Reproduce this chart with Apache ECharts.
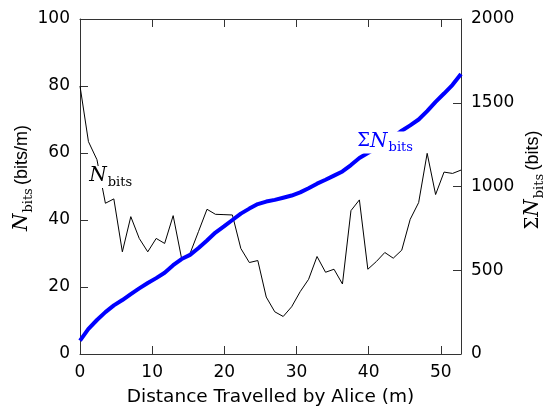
<!DOCTYPE html>
<html>
<head>
<meta charset="utf-8">
<script src="https://cdn.jsdelivr.net/npm/echarts@6/dist/echarts.min.js"></script>
<style>
  html, body { margin: 0; padding: 0; background: #fff; }
  #chart { width: 544px; height: 410px; }
</style>
</head>
<body>
<div id="chart"></div>
<script>
// Distance travelled by Alice (m) at each sample
const distance = [
  0, 1.17, 2.35, 3.52, 4.69, 5.87, 7.04, 8.21, 9.39, 10.56,
  11.73, 12.91, 14.08, 15.25, 16.43, 17.6, 18.77, 19.95, 21.12, 22.29,
  23.47, 24.64, 25.81, 26.99, 28.16, 29.33, 30.51, 31.68, 32.85, 34.03,
  35.2, 36.37, 37.55, 38.72, 39.89, 41.07, 42.24, 43.41, 44.59, 45.76,
  46.93, 48.11, 49.28, 50.45, 51.63, 52.8
];

// Key bits per metre
const nBits = [
  80, 63.4, 58, 45, 46.3, 30.5, 41, 34.5, 30.5, 34.5,
  33, 41.3, 28.5, 30, 36.6, 43.2, 41.7, 41.6, 41.5, 31.5,
  27.3, 27.9, 17, 12.6, 11.2, 14.1, 18.6, 22.3, 29.1, 24.4,
  25.3, 20.9, 42.8, 46, 25.3, 27.6, 30.3, 28.6, 31, 40.2,
  45.2, 59.9, 47.6, 54.3, 53.9, 54.9
];

// Accumulated key bits
const cumBits = [
  80, 150, 203, 250, 290, 322, 358, 392, 424, 453,
  485, 530, 567, 592, 633, 678, 725, 762, 800, 838,
  868, 895, 910, 920, 933, 946, 965, 990, 1017, 1040,
  1065, 1090, 1128, 1170, 1200, 1230, 1262, 1295, 1333, 1365,
  1400, 1450, 1505, 1555, 1607, 1672
];

const xTicks = [0, 10, 20, 30, 40, 50];
const leftTicks = [0, 20, 40, 60, 80, 100];
const rightTicks = [0, 500, 1000, 1500, 2000];

// Label anchors (data coordinates)
const nBitsLabelAt = [1.15, 52.8];
const sumLabelAt = [38.3, 1262];

const sans = 'DejaVu Sans';
const unitSans = 'Liberation Sans';
const serif = 'DejaVu Serif';
const axisColor = '#333';

const mathRich = (color) => ({
  sig: { fontFamily: serif, fontSize: 18, color: color, verticalAlign: 'top', lineHeight: 22, padding: [1, 0, 0, 0] },
  n: { fontFamily: serif, fontStyle: 'italic', fontSize: 20, color: color, verticalAlign: 'top', lineHeight: 22 },
  s: { fontFamily: serif, fontSize: 13, color: color, verticalAlign: 'top', lineHeight: 14, padding: [10, 0, 0, 1] },
  t: { fontFamily: unitSans, fontSize: 18, color: color, verticalAlign: 'top', lineHeight: 22, padding: [1, 0, 0, 0] }
});

const chart = echarts.init(document.getElementById('chart'), null, { renderer: 'canvas' });

const xLabelFmt = (v) => (xTicks.indexOf(v) >= 0 ? String(v) : '');
const plainFmt = (v) => String(v);

const frameLine = { show: true, onZero: false, lineStyle: { color: axisColor, width: 1 } };
const frameTick = { show: true, inside: true, length: 8, lineStyle: { color: axisColor } };

chart.setOption({
  animation: false,
  backgroundColor: '#fff',
  grid: { left: 80, right: 83, top: 19, bottom: 56, containLabel: false, outerBoundsMode: 'none' },
  xAxis: [
    {
      type: 'value', position: 'bottom', min: 0, max: distance[distance.length - 1], interval: 10,
      name: 'Distance Travelled by Alice (m)', nameLocation: 'middle', nameGap: 34, nameMoveOverlap: false,
      nameTextStyle: { fontFamily: sans, fontSize: 18.5, color: '#000' },
      axisLine: frameLine,
      axisTick: frameTick,
      axisLabel: { margin: 10, fontFamily: sans, fontSize: 17, color: '#000', formatter: xLabelFmt },
      splitLine: { show: false }
    },
    {
      type: 'value', position: 'top', min: 0, max: distance[distance.length - 1], interval: 10,
      axisLine: frameLine,
      axisTick: frameTick,
      axisLabel: { show: false },
      splitLine: { show: false }
    }
  ],
  yAxis: [
    {
      type: 'value', position: 'left', min: leftTicks[0], max: leftTicks[leftTicks.length - 1], interval: 20,
      name: '{n|N}{s|bits} {t|(bits/m)}', nameLocation: 'middle', nameRotate: 90, nameGap: 46, nameMoveOverlap: false,
      nameTextStyle: { padding: [0, 0, 0, 17], rich: mathRich('#000') },
      axisLine: frameLine,
      axisTick: frameTick,
      axisLabel: { margin: 10, fontFamily: sans, fontSize: 17, color: '#000', formatter: plainFmt },
      splitLine: { show: false }
    },
    {
      type: 'value', position: 'right', min: rightTicks[0], max: rightTicks[rightTicks.length - 1], interval: 500,
      name: '{sig|Σ}{n|N}{s|bits} {t|(bits)}', nameLocation: 'middle', nameRotate: 90, nameGap: 62, nameMoveOverlap: false,
      nameTextStyle: { padding: [0, 0, 0, 13], rich: mathRich('#000') },
      axisLine: frameLine,
      axisTick: frameTick,
      axisLabel: { margin: 10, fontFamily: sans, fontSize: 17, color: '#000', formatter: plainFmt },
      splitLine: { show: false }
    }
  ],
  series: [
    {
      name: 'Nbits', type: 'line', xAxisIndex: 0, yAxisIndex: 0,
      data: distance.map((d, i) => [d, nBits[i]]),
      showSymbol: false, symbol: 'none',
      lineStyle: { color: '#000', width: 1 },
      z: 2,
      markPoint: {
        symbol: 'circle', symbolSize: 0, silent: true,
        label: {
          show: true, position: 'right', distance: 0,
          backgroundColor: '#fff', padding: [0, 1, 0, 1],
          formatter: '{n|N}{s|bits}', rich: mathRich('#000')
        },
        data: [{ coord: nBitsLabelAt }]
      }
    },
    {
      name: 'SumNbits', type: 'line', xAxisIndex: 0, yAxisIndex: 1,
      data: distance.map((d, i) => [d, cumBits[i]]),
      showSymbol: false, symbol: 'none', smooth: false,
      lineStyle: { color: '#0000ff', width: 4 },
      z: 3,
      markPoint: {
        symbol: 'circle', symbolSize: 0, silent: true,
        label: {
          show: true, position: 'right', distance: 0,
          backgroundColor: '#fff', padding: [0, 1, 0, 1],
          formatter: '{sig|Σ}{n|N}{s|bits}', rich: mathRich('#0000ff')
        },
        data: [{ coord: sumLabelAt }]
      }
    }
  ]
});
</script>
</body>
</html>
